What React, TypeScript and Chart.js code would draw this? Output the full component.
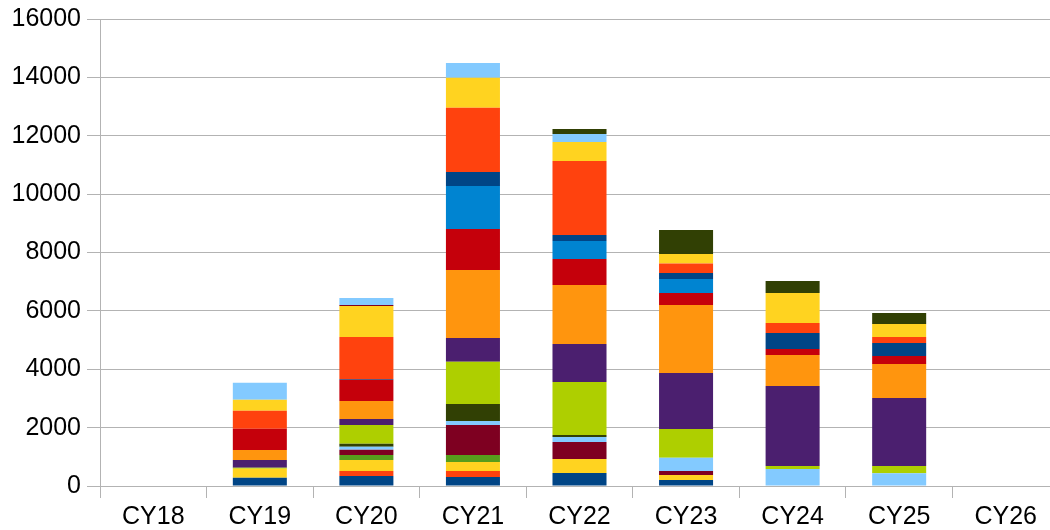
import React, { useEffect, useRef } from "react";
import { Chart, registerables } from "chart.js";

Chart.register(...registerables);

const categories = ["CY18", "CY19", "CY20", "CY21", "CY22", "CY23", "CY24", "CY25", "CY26"];
const yTicks = [0, 2000, 4000, 6000, 8000, 10000, 12000, 14000, 16000];

const series01 = [0, 285, 343, 308, 445, 206, 0, 0, 0];
const series02 = [0, 0, 171, 206, 0, 0, 0, 0, 0];
const series03 = [0, 308, 377, 308, 480, 171, 0, 0, 0];
const series04 = [0, 0, 171, 240, 0, 0, 0, 0, 0];
const series05 = [0, 0, 182, 1028, 582, 137, 0, 0, 0];
const series06 = [0, 0, 103, 137, 171, 457, 582, 435, 0];
const series07 = [0, 0, 103, 582, 69, 0, 0, 0, 0];
const series08 = [0, 30, 640, 1450, 1816, 982, 103, 251, 0];
const series09 = [0, 264, 206, 811, 1302, 1919, 2741, 2330, 0];
const series10 = [0, 343, 617, 2330, 2021, 2330, 1062, 1165, 0];
const series11 = [0, 730, 730, 1405, 891, 411, 206, 274, 0];
const series12 = [0, 0, 0, 1473, 617, 480, 0, 0, 0];
const series13 = [0, 0, 25, 480, 206, 206, 548, 445, 0];
const series14 = [0, 617, 1439, 2203, 2535, 320, 343, 206, 0];
const series15 = [0, 377, 1062, 1028, 651, 331, 1028, 445, 0];
const series16 = [0, 0, 0, 0, 0, 0, 0, 0, 0];
const series17 = [0, 0, 34, 0, 0, 0, 0, 0, 0];
const series18 = [0, 582, 240, 503, 274, 0, 0, 0, 0];
const series19 = [0, 0, 0, 0, 171, 822, 411, 377, 0];

const allSeries = [
  series01, series02, series03, series04, series05, series06, series07, series08, series09, series10,
  series11, series12, series13, series14, series15, series16, series17, series18, series19,
];

const palette = [
  "#004586", "#ff420e", "#ffd320", "#579d1c", "#7e0021", "#83caff",
  "#314004", "#aecf00", "#4b1f6f", "#ff950e", "#c5000b", "#0084d1",
];

export default function App() {
  const ref = useRef<HTMLCanvasElement>(null);
  useEffect(() => {
    if (!ref.current) return;
    const font = { family: "'Liberation Sans', Arial, sans-serif", size: 25 };
    const chart = new Chart(ref.current, {
      type: "bar",
      data: {
        labels: categories,
        datasets: allSeries.map((d, i) => ({
          label: "Series " + (i + 1),
          data: d,
          backgroundColor: palette[i % palette.length],
          borderWidth: 0,
          categoryPercentage: 0.507,
          barPercentage: 1,
        })),
      },
      options: {
        animation: false,
        responsive: false,
        maintainAspectRatio: false,
        layout: { padding: { top: 19, right: 11, left: 0, bottom: 0 } },
        plugins: { legend: { display: false }, tooltip: { enabled: false } },
        scales: {
          x: {
            stacked: true,
            grid: { display: true, drawOnChartArea: false, drawTicks: true, tickLength: 12, color: "#b3b3b3", offset: true },
            border: { color: "#b3b3b3" },
            ticks: { color: "#000", font, padding: 4 },
            afterFit: (s: any) => { s.height = 44; s.paddingLeft = 0; s.paddingRight = 0; },
          },
          y: {
            stacked: true,
            min: 0,
            max: 16000,
            afterBuildTicks: (s: any) => { s.ticks = yTicks.map((v) => ({ value: v })); },
            grid: { color: "#b3b3b3", tickLength: 13 },
            border: { color: "#b3b3b3" },
            ticks: { color: "#000", font, padding: 6, callback: (v: any) => String(v) },
            afterFit: (s: any) => { s.width = 100; s.paddingTop = 0; s.paddingBottom = 0; },
          },
        },
      },
    });
    return () => chart.destroy();
  }, []);
  return (
    <div style={{ position: "fixed", left: 0, top: 0, width: 1050, height: 530, overflow: "hidden", background: "#fff" }}>
      <canvas ref={ref} width={1070} height={530} style={{ display: "block" }} />
    </div>
  );
}
